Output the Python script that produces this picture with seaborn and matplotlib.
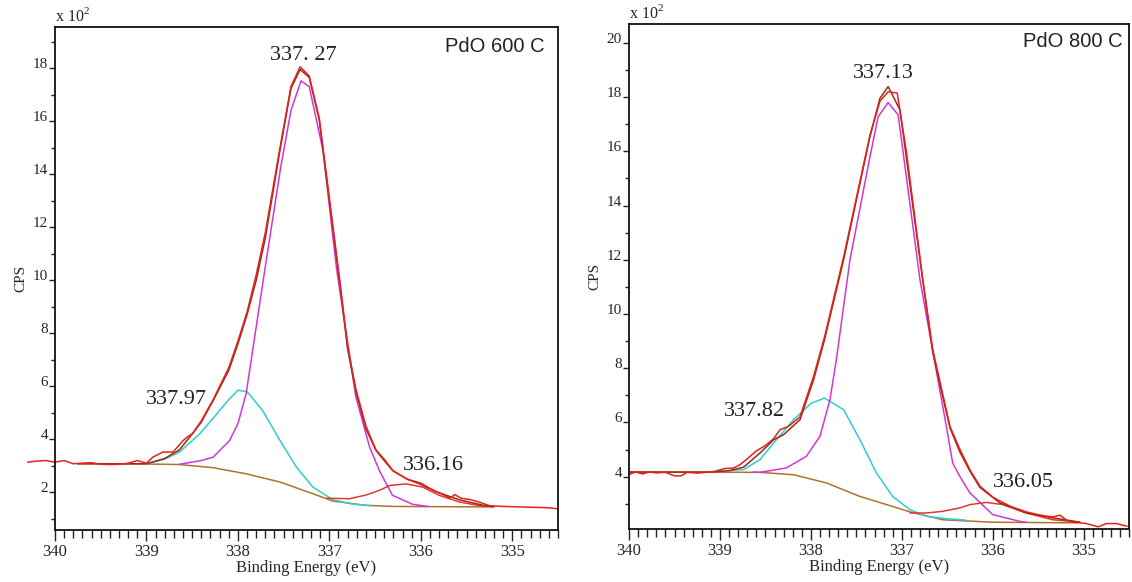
"""Pd 3d XPS fits for PdO annealed at 600 C and 800 C."""

import matplotlib.pyplot as plt
import seaborn as sns
from matplotlib.ticker import MultipleLocator

# ---- PdO 600 C (counts in units of 10^2 CPS) ----
be_600_data = [340.3, 340.2, 340.1, 340.0, 339.9, 339.8, 339.7, 339.6, 339.5, 339.4,
               339.3, 339.2, 339.1, 339.0, 338.93, 338.82, 338.71, 338.6, 338.55, 338.5,
               338.4, 338.27, 338.1, 338.0, 337.9, 337.8, 337.7, 337.54, 337.42, 337.32,
               337.22, 337.11, 337.0, 336.89, 336.8, 336.71, 336.6, 336.49, 336.4, 336.3,
               336.15, 336.0, 335.9, 335.75, 335.68, 335.63, 335.56, 335.45, 335.35, 335.25,
               335.1, 335.0, 334.8, 334.6, 334.5]
cps_600_data = [3.14, 3.18, 3.2, 3.14, 3.2, 3.08, 3.1, 3.12, 3.06, 3.05,
                3.06, 3.1, 3.2, 3.1, 3.33, 3.52, 3.52, 3.95, 4.1, 4.2,
                4.7, 5.5, 6.7, 7.7, 8.8, 10.2, 11.8, 15.0, 17.3, 18.05,
                17.7, 16.1, 13.1, 10.1, 7.5, 5.9, 4.5, 3.6, 3.25, 2.8,
                2.5, 2.35, 2.15, 1.9, 1.78, 1.92, 1.78, 1.72, 1.62, 1.5,
                1.47, 1.46, 1.44, 1.42, 1.38]

be_600_env = [339.75, 339.0, 338.8, 338.64, 338.5, 338.4, 338.27, 338.1, 338.0, 337.9,
              337.8, 337.7, 337.54, 337.42, 337.32, 337.22, 337.11, 337.0, 336.89, 336.8,
              336.71, 336.6, 336.49, 336.4, 336.31, 336.15, 336.02, 335.85, 335.72, 335.58,
              335.43, 335.3, 335.2]
cps_600_env = [3.08, 3.08, 3.28, 3.6, 4.2, 4.65, 5.47, 6.6, 7.6, 8.7,
               10.0, 11.6, 14.9, 17.23, 17.95, 17.65, 16.04, 13.0, 10.0, 7.4,
               5.8, 4.4, 3.58, 3.2, 2.83, 2.5, 2.33, 2.05, 1.89, 1.72,
               1.6, 1.5, 1.46]

be_600_bg = [339.75, 339.0, 338.64, 338.27, 337.91, 337.54, 337.18, 336.96, 336.6, 336.3, 335.2]
cps_600_bg = [3.08, 3.07, 3.05, 2.93, 2.7, 2.39, 1.95, 1.67, 1.51, 1.47, 1.45]

be_600_main = [338.64, 338.4, 338.27, 338.09, 338.0, 337.91, 337.8, 337.69, 337.53, 337.42,
               337.31, 337.22, 337.07, 336.92, 336.71, 336.56, 336.45, 336.31, 336.09, 335.92]
cps_600_main = [3.06, 3.2, 3.33, 3.96, 4.59, 5.72, 8.24, 10.75, 14.3, 16.4,
                17.52, 17.3, 14.9, 10.4, 5.6, 3.71, 2.8, 1.89, 1.55, 1.47]

be_600_high = [339.0, 338.8, 338.64, 338.5, 338.42, 338.27, 338.1, 338.0, 337.9, 337.73,
               337.54, 337.36, 337.18, 336.96, 336.75, 336.55]
cps_600_high = [3.08, 3.25, 3.52, 3.95, 4.2, 4.8, 5.5, 5.85, 5.8, 5.09,
                3.96, 2.95, 2.2, 1.72, 1.56, 1.5]

be_600_low = [337.03, 336.78, 336.6, 336.45, 336.34, 336.16, 335.98, 335.8, 335.58, 335.36, 335.22]
cps_600_low = [1.78, 1.76, 1.9, 2.08, 2.26, 2.32, 2.2, 1.89, 1.64, 1.5, 1.47]

# ---- PdO 800 C ----
be_800_data = [340.0, 339.93, 339.85, 339.78, 339.7, 339.6, 339.5, 339.43, 339.36, 339.25,
               339.15, 339.05, 338.95, 338.85, 338.78, 338.71, 338.6, 338.5, 338.41, 338.34,
               338.25, 338.12, 337.97, 337.85, 337.64, 337.35, 337.24, 337.15, 337.05, 336.95,
               336.77, 336.66, 336.58, 336.47, 336.36, 336.25, 336.14, 336.0, 335.92, 335.8,
               335.63, 335.5, 335.41, 335.33, 335.26, 335.19, 335.12, 334.97, 334.84, 334.75,
               334.64, 334.52]
cps_800_data = [4.08, 4.17, 4.1, 4.17, 4.14, 4.16, 4.03, 4.03, 4.16, 4.13,
                4.16, 4.2, 4.3, 4.32, 4.44, 4.63, 4.95, 5.15, 5.4, 5.73,
                5.85, 6.2, 7.7, 9.15, 12.1, 16.6, 17.85, 18.2, 18.15, 16.0,
                11.3, 8.7, 7.5, 5.85, 5.0, 4.25, 3.65, 3.25, 3.1, 2.9,
                2.7, 2.6, 2.54, 2.52, 2.58, 2.4, 2.32, 2.27, 2.15, 2.27,
                2.27, 2.17]

be_800_env = [340.0, 339.1, 338.9, 338.74, 338.56, 338.41, 338.3, 338.12, 337.97, 337.85,
              337.64, 337.35, 337.24, 337.15, 337.02, 336.77, 336.66, 336.58, 336.47, 336.36,
              336.25, 336.14, 335.92, 335.63, 335.34, 335.04]
cps_800_env = [4.17, 4.17, 4.22, 4.35, 4.87, 5.36, 5.55, 6.1, 7.58, 9.05,
               12.0, 16.55, 17.96, 18.39, 17.53, 11.26, 8.6, 7.4, 5.8, 4.9,
               4.2, 3.6, 3.03, 2.66, 2.48, 2.32]

be_800_bg = [340.0, 338.56, 338.19, 337.83, 337.46, 337.1, 336.91, 336.55, 336.0, 335.26, 335.07]
cps_800_bg = [4.17, 4.16, 4.07, 3.77, 3.27, 2.9, 2.7, 2.41, 2.32, 2.3, 2.3]

be_800_main = [338.64, 338.56, 338.27, 338.05, 337.9, 337.79, 337.72, 337.57, 337.35, 337.26,
               337.15, 337.04, 336.8, 336.51, 336.44, 336.36, 336.25, 336.0, 335.7, 335.63]
cps_800_main = [4.17, 4.16, 4.32, 4.75, 5.49, 6.84, 8.31, 12.0, 15.8, 17.28,
                17.8, 17.35, 11.26, 5.86, 4.5, 4.0, 3.4, 2.6, 2.35, 2.32]

be_800_high = [339.1, 339.0, 338.74, 338.56, 338.38, 338.19, 338.0, 337.85, 337.64, 337.46,
               337.28, 337.1, 336.91, 336.73, 336.51, 336.3]
cps_800_high = [4.17, 4.2, 4.26, 4.63, 5.36, 6.1, 6.7, 6.9, 6.47, 5.36,
                4.14, 3.27, 2.78, 2.54, 2.45, 2.4]

be_800_low = [336.91, 336.73, 336.55, 336.36, 336.25, 336.07, 335.89, 335.63, 335.34, 335.04]
cps_800_low = [2.66, 2.66, 2.72, 2.85, 2.97, 3.05, 2.97, 2.66, 2.41, 2.32]

BG_COLOR = "#b0722f"
HIGH_COLOR = "#2ccfcf"
MAIN_COLOR = "#d236d8"
LOW_COLOR = "#e03a30"
ENV_COLOR = "#9a2a14"
DATA_COLOR = "#e4221c"

panels = [
    {
        "title": "PdO 600 C",
        "rect": [0.0486, 0.0893, 0.4443, 0.8643],
        "ylim": (0.58, 19.55),
        "title_pos": (0.974, 0.950),
        "curves": [
            (be_600_bg, cps_600_bg, BG_COLOR),
            (be_600_high, cps_600_high, HIGH_COLOR),
            (be_600_main, cps_600_main, MAIN_COLOR),
            (be_600_low, cps_600_low, LOW_COLOR),
            (be_600_env, cps_600_env, ENV_COLOR),
            (be_600_data, cps_600_data, DATA_COLOR),
        ],
        "peaks": [("337. 27", 337.29, 18.3), ("337.97", 338.67, 5.32), ("336.16", 335.86, 2.83)],
    },
    {
        "title": "PdO 800 C",
        "rect": [0.5557, 0.0911, 0.4417, 0.8677],
        "ylim": (2.07, 20.7),
        "title_pos": (0.988, 0.954),
        "curves": [
            (be_800_bg, cps_800_bg, BG_COLOR),
            (be_800_high, cps_800_high, HIGH_COLOR),
            (be_800_main, cps_800_main, MAIN_COLOR),
            (be_800_low, cps_800_low, LOW_COLOR),
            (be_800_env, cps_800_env, ENV_COLOR),
            (be_800_data, cps_800_data, DATA_COLOR),
        ],
        "peaks": [("337.13", 337.20, 18.71), ("337.82", 338.62, 6.25), ("336.05", 335.66, 3.63)],
    },
]

sns.set_theme(style="ticks")
plt.rcParams["font.family"] = ["Liberation Serif", "DejaVu Serif"]
plt.rcParams["mathtext.fontset"] = "custom"
plt.rcParams["mathtext.rm"] = "Liberation Serif"

fig = plt.figure(figsize=(11.32, 5.82), dpi=100)

for panel in panels:
    ax = fig.add_axes(panel["rect"])
    for i, (xs, ys, color) in enumerate(panel["curves"]):
        sns.lineplot(x=xs, y=ys, ax=ax, color=color, lw=1.1, sort=False,
                     estimator=None, clip_on=(i != 5))

    ax.set_xlim(340, 334.5)
    ax.set_ylim(*panel["ylim"])
    ax.xaxis.set_major_locator(MultipleLocator(1))
    ax.xaxis.set_minor_locator(MultipleLocator(0.1))
    ax.yaxis.set_major_locator(MultipleLocator(2))
    ax.yaxis.set_minor_locator(MultipleLocator(1))
    ax.tick_params(axis="x", which="major", length=8, width=1, labelsize=12, pad=2, color="#222222")
    ax.tick_params(axis="x", which="minor", length=5.5, width=1, color="#222222")
    ax.tick_params(axis="y", which="major", length=4, width=1, labelsize=11, pad=1, color="#222222")
    ax.tick_params(axis="y", which="minor", length=3, width=1, color="#222222")
    for lbl in ax.get_yticklabels():
        lbl.set_verticalalignment("baseline")
    for side in ["left", "right", "top", "bottom"]:
        ax.spines[side].set_color("#111111")
        ax.spines[side].set_linewidth(1.3)

    ax.set_xlabel("Binding Energy (eV)", fontsize=12, labelpad=0)
    ax.set_ylabel("CPS", fontsize=11, labelpad=4)
    ax.text(0.0, 1.003, "x 10$^{2}$", transform=ax.transAxes, fontsize=11.5,
            ha="left", va="bottom")
    tx, ty = panel["title_pos"]
    ax.text(tx, ty, panel["title"], transform=ax.transAxes, fontsize=14.5,
            family=["Liberation Sans", "DejaVu Sans"], ha="right", va="baseline", color="#222222")
    for text, x, y in panel["peaks"]:
        ax.text(x, y, text, fontsize=16, ha="center", va="baseline", color="#222222")

fig.savefig("out.png", dpi=100)
